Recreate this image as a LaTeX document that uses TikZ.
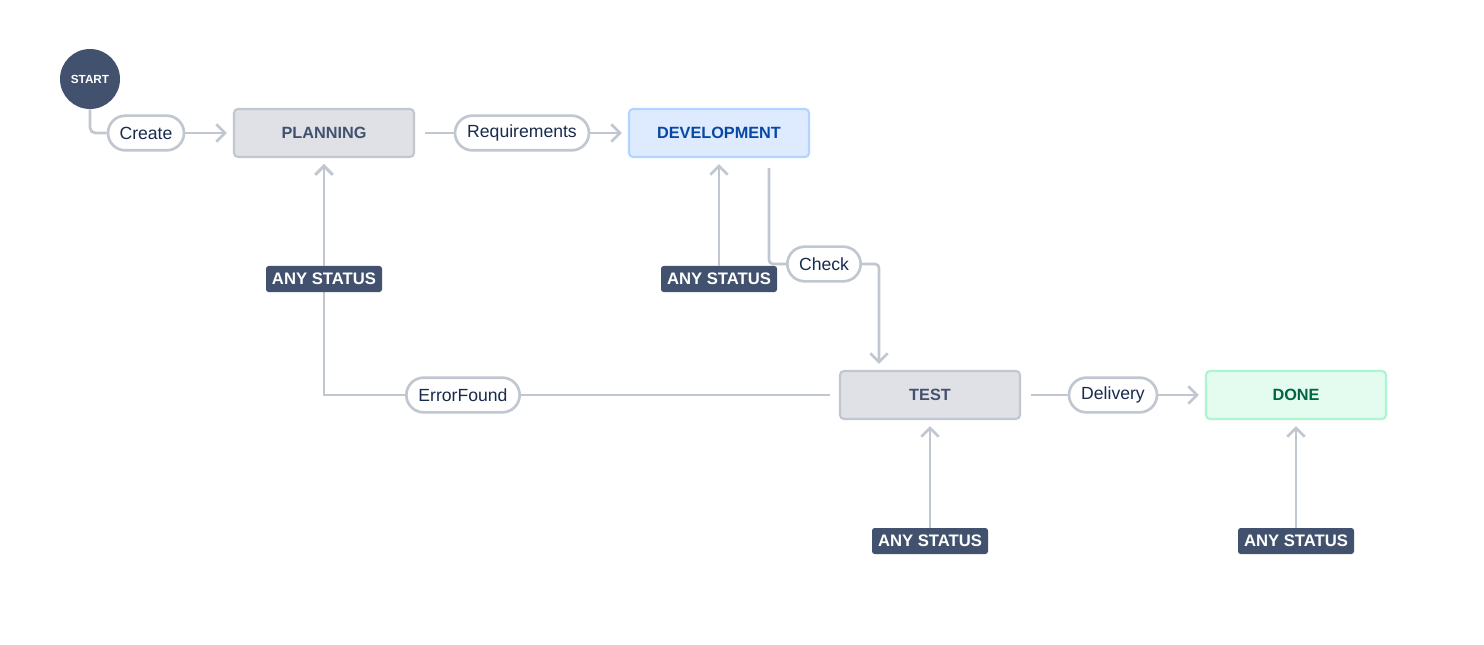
\documentclass[tikz,border=0pt]{standalone}
\usepackage{fontspec}
\setmainfont{Liberation Sans}
\usetikzlibrary{arrows.meta,calc}
\definecolor{navy}{HTML}{42526E}
\definecolor{lineg}{HTML}{C1C7D0}
\definecolor{boxg}{HTML}{DFE1E6}
\definecolor{devfill}{HTML}{DEEBFF}
\definecolor{devdraw}{HTML}{B3D4FF}
\definecolor{devtext}{HTML}{0747A6}
\definecolor{donefill}{HTML}{E3FCEF}
\definecolor{donedraw}{HTML}{ABF5D1}
\definecolor{donetext}{HTML}{006644}
\definecolor{pilltext}{HTML}{172B4D}
\tikzset{
  conn/.style={draw=lineg, line width=2pt},
  arr/.style={conn, -{Straight Barb[length=6.5pt,width=13pt,line width=2pt]}, shorten >=4.5pt},
  pill/.style={draw=lineg, line width=2pt, fill=white, rounded corners=13pt,
    minimum height=26pt, inner sep=0pt, text=pilltext, font=\fontsize{13.2pt}{15pt}\selectfont},
  status/.style={draw=lineg, line width=1.6pt, fill=boxg, rounded corners=3pt,
    minimum width=135pt, minimum height=36pt, inner sep=0pt, text=navy,
    font=\fontsize{12.2pt}{14pt}\selectfont\bfseries},
  anyst/.style={fill=navy, rounded corners=2pt, minimum width=87pt, minimum height=19.5pt,
    inner sep=0pt, text=white, font=\fontsize{12.5pt}{14pt}\selectfont\bfseries},
}
\begin{document}
\begin{tikzpicture}[x=0.75pt,y=-0.75pt]
\useasboundingbox (0,0) rectangle (1484,645);
\fill[white] (0,0) rectangle (1484,645);
% nodes
\node[circle, fill=navy, minimum size=45pt, inner sep=0pt, text=white,
  font=\fontsize{8.8pt}{10pt}\selectfont\bfseries] (start) at (90,79) {START};
\node[pill, minimum width=57pt] (create) at (146,133) {Create};
\node[status] (planning) at (324,133) {PLANNING};
\node[pill, minimum width=100.5pt] (req) at (522,133) {Requirements};
\node[status, fill=devfill, draw=devdraw, text=devtext] (dev) at (719,133) {DEVELOPMENT};
\node[pill, minimum width=55pt] (check) at (824,264) {Check};
\node[status] (test) at (930,395) {TEST};
\node[pill, minimum width=85pt] (err) at (463,395) {ErrorFound};
\node[pill, minimum width=66pt] (deliv) at (1113,395) {Delivery};
\node[status, fill=donefill, draw=donedraw, text=donetext] (done) at (1296,395) {DONE};
% connectors
\draw[conn, rounded corners=4pt] (start.south) |- (create.west);
\draw[arr] (create.east) -- (planning.west);
\draw[conn, shorten <=7.5pt] (planning.east) -- (req.west);
\draw[arr] (req.east) -- (dev.west);
\draw[conn, rounded corners=3pt] ($(dev.south)+(50,10)$) |- (check.west);
\draw[arr, rounded corners=3pt] (check.east) -| ($(test.north)+(-51,0)$);
\draw[conn, shorten <=6.75pt] (test.west) -- (err.east);
\draw[arr] (err.west) -| (planning.south);
\draw[conn, shorten <=7.5pt] (test.east) -- (deliv.west);
\draw[arr] (deliv.east) -- (done.west);
% any status
\node[anyst] (any1) at (324,279) {ANY STATUS};
\node[anyst] (any2) at (719,279) {ANY STATUS};
\node[anyst] (any3) at (930,541) {ANY STATUS};
\node[anyst] (any4) at (1296,541) {ANY STATUS};
\draw[arr] (any1.north) -- (planning.south);
\draw[arr] (any2.north) -- (dev.south);
\draw[arr] (any3.north) -- (test.south);
\draw[arr] (any4.north) -- (done.south);
\end{tikzpicture}
\end{document}
